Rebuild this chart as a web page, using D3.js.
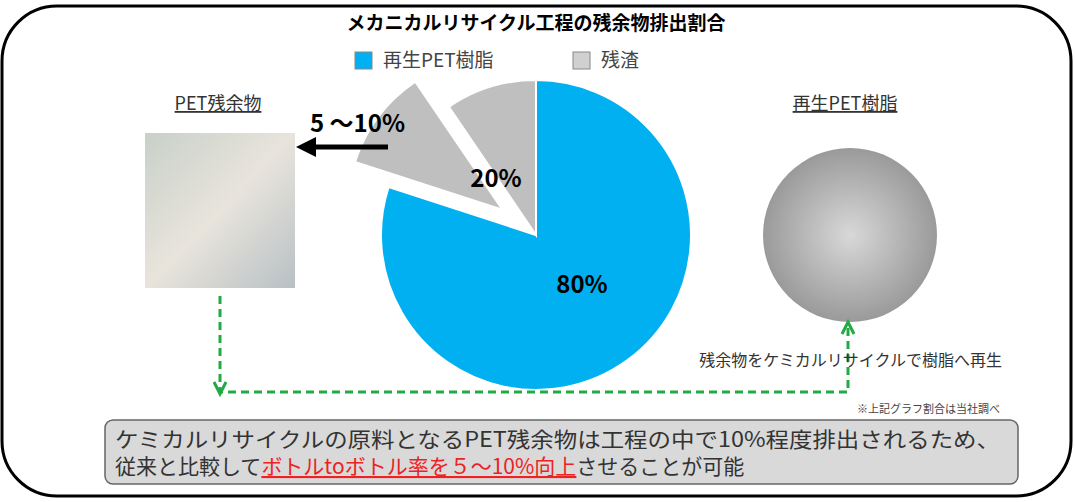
<!DOCTYPE html>
<html><head><meta charset="utf-8">
<script src="https://cdn.jsdelivr.net/npm/d3@7"></script>
<style>body{margin:0;background:#fff}</style>
</head><body>
<svg id="c" width="1075" height="502"></svg>
<script>
// ---- data ----
const title = "メカニカルリサイクル工程の残余物排出割合"
const sliceNames = ["再生PET樹脂", "残渣(排出)", "残渣"]
const sliceValues = [80, 10.5, 9.5]
const sliceColors = ["#00b0f0", "#bfbfbf", "#bfbfbf"]
const legendNames = ["再生PET樹脂", "残渣"]
const legendColors = ["#00b0f0", "#d0d0d0"]

const svg = d3.select("#c").style("font-family", "'Noto Sans CJK JP', sans-serif")

// frame
svg.append("rect").attr("x", 2).attr("y", 6).attr("width", 1069).attr("height", 490)
  .attr("rx", 55).attr("fill", "none").attr("stroke", "#000").attr("stroke-width", 3)

svg.append("text").attr("x", 536).attr("y", 30).attr("text-anchor", "middle")
  .style("font-size", "19px").style("font-weight", "bold").text(title)

// legend
const lg = svg.selectAll("g.lg").data(legendNames).enter().append("g")
  .attr("transform", (d, i) => `translate(${[355, 573][i]},52)`)
lg.append("rect").attr("width", 17).attr("height", 17).attr("fill", (d, i) => legendColors[i])
  .attr("stroke", "#888")
lg.append("text").attr("x", 28).attr("y", 15).style("font-size", "19px").attr("fill", "#444")
  .text(d => d)

// pie
const cx = 536, cy = 235, R = 155
const pie = d3.pie().sort(null)(sliceValues)
const arc = d3.arc().innerRadius(0).outerRadius(R)
const g = svg.append("g").attr("transform", `translate(${cx},${cy})`)
g.selectAll("path").data(pie).enter().append("path")
  .attr("d", arc)
  .attr("fill", (d, i) => sliceColors[i])
  .attr("stroke", "#fff").attr("stroke-width", 2)
  .attr("transform", (d, i) => {
    if (i !== 1) return null
    const a = (d.startAngle + d.endAngle) / 2
    return `translate(${Math.sin(a) * 42},${-Math.cos(a) * 42})`
  })
g.append("text").attr("x", 46).attr("y", 58).attr("text-anchor", "middle")
  .style("font-size", "24px").style("font-weight", "bold").text("80%")
g.append("text").attr("x", -40).attr("y", -48).attr("text-anchor", "middle")
  .style("font-size", "24px").style("font-weight", "bold").text("20%")
svg.append("text").attr("x", 310).attr("y", 132)
  .style("font-size", "24px").style("font-weight", "bold").text("5 〜10%")

// arrow
svg.append("defs").append("marker").attr("id", "ah").attr("viewBox", "0 0 10 10")
  .attr("refX", 5).attr("refY", 5).attr("markerWidth", 4).attr("markerHeight", 4).attr("orient", "auto")
  .append("path").attr("d", "M0,0L10,5L0,10z").attr("fill", "#000")
svg.append("line").attr("x1", 388).attr("y1", 147).attr("x2", 306).attr("y2", 147)
  .attr("stroke", "#000").attr("stroke-width", 5).attr("marker-end", "url(#ah)")

// left photo placeholder
svg.append("text").attr("x", 218).attr("y", 110).attr("text-anchor", "middle")
  .style("font-size", "18px").attr("fill", "#333").attr("text-decoration", "underline").text("PET残余物")
const lgd = svg.append("defs").append("linearGradient").attr("id", "lp")
  .attr("x1", 0).attr("y1", 0).attr("x2", 1).attr("y2", 1)
lgd.append("stop").attr("offset", 0).attr("stop-color", "#c8d0c8")
lgd.append("stop").attr("offset", 0.5).attr("stop-color", "#e8e4dc")
lgd.append("stop").attr("offset", 1).attr("stop-color", "#b8c0c4")
svg.append("rect").attr("x", 145).attr("y", 133).attr("width", 150).attr("height", 155).attr("fill", "url(#lp)")

// right photo placeholder
svg.append("text").attr("x", 845).attr("y", 110).attr("text-anchor", "middle")
  .style("font-size", "18px").attr("fill", "#333").attr("text-decoration", "underline").text("再生PET樹脂")
const rg = svg.append("defs").append("radialGradient").attr("id", "rp")
rg.append("stop").attr("offset", 0).attr("stop-color", "#d8d8d8")
rg.append("stop").attr("offset", 1).attr("stop-color", "#9a9a9a")
svg.append("circle").attr("cx", 850).attr("cy", 235).attr("r", 87).attr("fill", "url(#rp)")

// dashed green flow
svg.append("path").attr("d", "M220,296 V392 H848 V326")
  .attr("fill", "none").attr("stroke", "#22aa44").attr("stroke-width", 3).attr("stroke-dasharray", "8,5")
svg.append("path").attr("d", "M214,382 L220,394 L226,382").attr("fill", "none").attr("stroke", "#22aa44").attr("stroke-width", 3)
svg.append("path").attr("d", "M842,334 L848,322 L854,334").attr("fill", "none").attr("stroke", "#22aa44").attr("stroke-width", 3)
svg.append("text").attr("x", 1002).attr("y", 366).attr("text-anchor", "end")
  .style("font-size", "16px").attr("fill", "#333").text("残余物をケミカルリサイクルで樹脂へ再生")
svg.append("text").attr("x", 1000).attr("y", 413).attr("text-anchor", "end")
  .style("font-size", "11px").attr("fill", "#444").text("※上記グラフ割合は当社調べ")

// bottom box
svg.append("rect").attr("x", 105).attr("y", 420).attr("width", 913).attr("height", 64).attr("rx", 8)
  .attr("fill", "#d9d9d9").attr("stroke", "#666").attr("stroke-width", 1.5)
svg.append("text").attr("x", 115).attr("y", 447).style("font-size", "21px").attr("fill", "#333")
  .attr("textLength", 885).attr("lengthAdjust", "spacingAndGlyphs")
  .text("ケミカルリサイクルの原料となるPET残余物は工程の中で10%程度排出されるため、")
const t2 = svg.append("text").attr("x", 115).attr("y", 474).style("font-size", "21px").attr("fill", "#333")
t2.append("tspan").text("従来と比較して")
t2.append("tspan").attr("fill", "#ee2222").attr("text-decoration", "underline").text("ボトルtoボトル率を５〜10%向上")
t2.append("tspan").text("させることが可能")
</script>
</body></html>
